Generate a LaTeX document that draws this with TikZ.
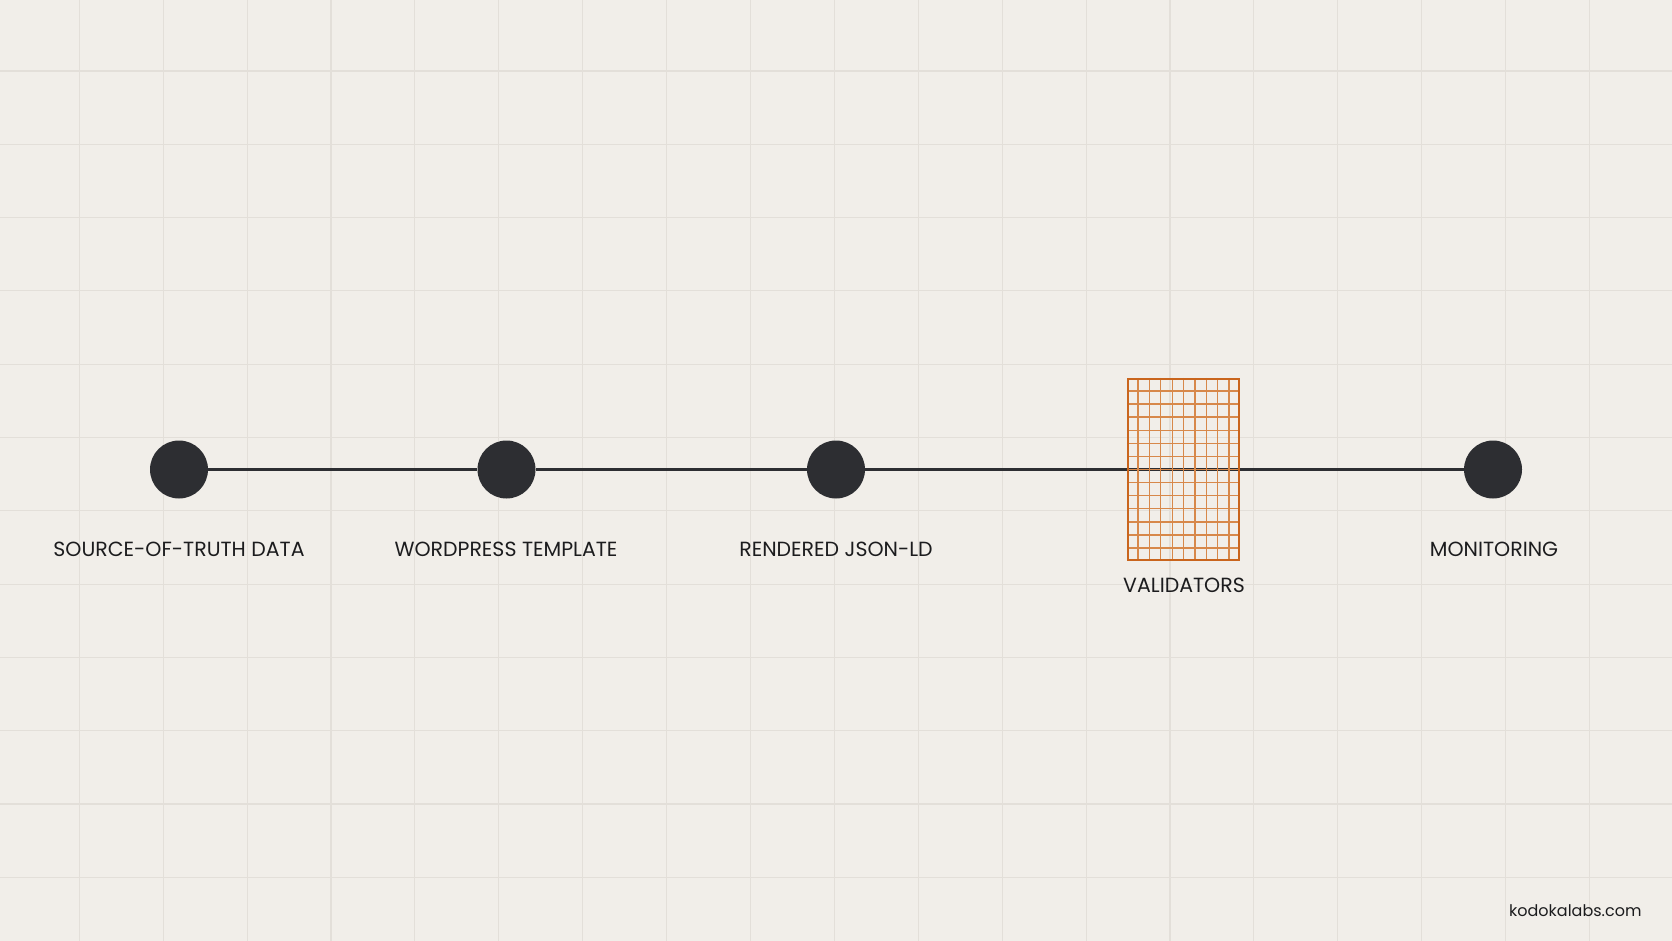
\documentclass[tikz,border=0pt]{standalone}
\usepackage{fontspec}
\setmainfont{Poppins}
\usetikzlibrary{positioning, calc}

\definecolor{paper}{HTML}{F1EEE9}
\definecolor{gridline}{HTML}{E3DFD9}
\definecolor{ink}{HTML}{2D2E32}
\definecolor{labelink}{HTML}{1C1C1E}
\definecolor{rust}{HTML}{C9651D}
\definecolor{rustlight}{HTML}{D7884A}

\tikzset{
    stage/.style={circle, fill=ink, minimum size=58pt, inner sep=0pt},
    stagelabel/.style={anchor=base, font=\fontsize{20.5}{23}\selectfont, text=labelink},
    pipe/.style={draw=ink, line width=3pt},
    checkbox/.style={draw=rust, line width=2.5pt, minimum width=111pt, minimum height=181pt, inner sep=0pt},
    checkgrid/.style={draw=rustlight, line width=1.3pt}
}

\begin{document}
\begin{tikzpicture}[x=1pt, y=-1pt]
    % Background paper with grid
    \fill[paper] (0,0) rectangle (1672,941);
    \useasboundingbox (0,0) rectangle (1672,941);
    \foreach \gx in {0,...,18}
        \draw[gridline, line width=1.1pt] ({79.3+83.9*\gx},0) -- ({79.3+83.9*\gx},941);
    \foreach \gy in {0,...,11}
        \draw[gridline, line width=1.1pt] (0,{71+73.3*\gy}) -- (1672,{71+73.3*\gy});

    % Nodes
    \node[stage] (source) at (179,469.5) {};
    \node[stage] (template) at (506.5,469.5) {};
    \node[stage] (jsonld) at (836,469.5) {};
    \node[stage] (monitor) at (1493,469.5) {};
    \node[checkbox] (validate) at (1183.5,469.5) {};

    % Connections
    \draw[pipe] (source) -- (template);
    \draw[pipe] (template) -- (jsonld);
    \draw[pipe] (jsonld) -- (monitor);

    % Validator grid
    \foreach \i in {1,...,9}
        \draw[checkgrid] ($(validate.north west)!\i/10!(validate.north east)$) -- ($(validate.south west)!\i/10!(validate.south east)$);
    \foreach \j in {1,...,13}
        \draw[checkgrid] ($(validate.north west)!\j/14!(validate.south west)$) -- ($(validate.north east)!\j/14!(validate.south east)$);
    \node[checkbox] at (validate.center) {};

    % Labels
    \node[stagelabel] (sourcelbl) at (179,556.5) {SOURCE-OF-TRUTH DATA};
    \node[stagelabel] (templatelbl) at (506,556.5) {WORDPRESS TEMPLATE};
    \node[stagelabel] (jsonldlbl) at (836,556.5) {RENDERED JSON-LD};
    \node[stagelabel] (validatelbl) at (1184,592) {VALIDATORS};
    \node[stagelabel] (monitorlbl) at (1494,556.5) {MONITORING};

    \node[anchor=base east, font=\fontsize{16}{19}\selectfont, text=labelink] (site) at (1645,916) {kodokalabs.com};
\end{tikzpicture}
\end{document}
